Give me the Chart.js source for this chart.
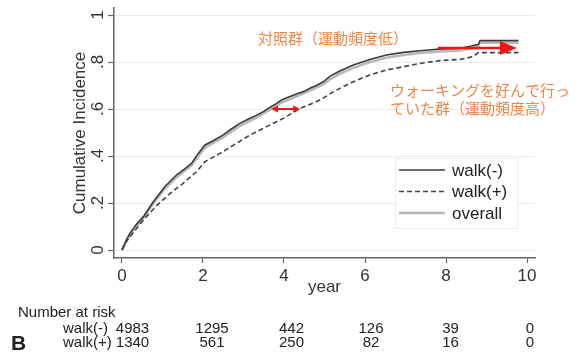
<!DOCTYPE html>
<html>
<head>
<meta charset="utf-8">
<script src="https://cdn.jsdelivr.net/npm/chart.js@4.4.1/dist/chart.umd.min.js"></script>
<style>
  html, body { margin: 0; padding: 0; background: #ffffff; }
  #wrap { width: 575px; height: 354px; position: relative; }
</style>
</head>
<body>
<div id="wrap"><canvas id="c" width="575" height="354"></canvas></div>
<script>
// Cumulative incidence by walking habit (years of follow-up)
const walkMinusYears = [0, 0.1, 0.2, 0.35, 0.53, 0.77, 1.06, 1.35, 1.55, 1.72, 1.88, 2.05, 2.25, 2.5, 2.7, 2.91, 3.1, 3.33, 3.5, 3.65, 3.8, 3.94, 4.1, 4.31, 4.5, 4.64, 4.8, 4.97, 5.14, 5.38, 5.71, 6.12, 6.53, 6.95, 7.36, 7.77, 8.35, 8.63, 8.8, 8.84, 9.79];
const walkMinusInc   = [0, 0.04, 0.072, 0.108, 0.142, 0.204, 0.27, 0.32, 0.345, 0.369, 0.41, 0.447, 0.465, 0.49, 0.515, 0.539, 0.555, 0.574, 0.59, 0.607, 0.622, 0.638, 0.65, 0.664, 0.675, 0.688, 0.70, 0.716, 0.74, 0.762, 0.787, 0.811, 0.83, 0.841, 0.848, 0.854, 0.858, 0.868, 0.875, 0.891, 0.891];

const walkPlusYears = [0, 0.08, 0.2, 0.53, 0.86, 1.19, 1.51, 1.84, 2.05, 2.42, 2.83, 3.16, 3.57, 3.98, 4.4, 4.8, 5.05, 5.22, 5.71, 6.12, 6.53, 6.95, 7.36, 7.85, 8.35, 8.67, 8.8, 9.79];
const walkPlusInc   = [0, 0.03, 0.057, 0.128, 0.19, 0.241, 0.284, 0.333, 0.376, 0.411, 0.454, 0.489, 0.525, 0.56, 0.603, 0.631, 0.655, 0.674, 0.716, 0.745, 0.766, 0.78, 0.794, 0.806, 0.811, 0.823, 0.84, 0.84];

const overallYears = [0, 0.2, 0.53, 0.77, 1.06, 1.35, 1.72, 1.88, 2.05, 2.5, 2.91, 3.33, 3.65, 3.94, 4.31, 4.64, 4.97, 5.14, 5.38, 5.71, 6.12, 6.53, 6.95, 7.36, 7.77, 8.35, 8.63, 8.8, 8.84, 9.79];
const overallInc   = [0, 0.068, 0.137, 0.198, 0.262, 0.31, 0.36, 0.398, 0.436, 0.48, 0.528, 0.564, 0.597, 0.627, 0.654, 0.678, 0.705, 0.727, 0.75, 0.775, 0.8, 0.818, 0.83, 0.838, 0.844, 0.849, 0.858, 0.866, 0.882, 0.882];

// Axis ticks
const xTicks = [0, 2, 4, 6, 8, 10];
const yTicks = [0, 0.2, 0.4, 0.6, 0.8, 1];

// Number-at-risk table
const riskTimes = [0, 2, 4, 6, 8, 10];
const riskWalkMinus = [4983, 1295, 442, 126, 39, 0];
const riskWalkPlus = [1340, 561, 250, 82, 16, 0];

// Annotation texts and arrow positions (data units)
const labelLow = '対照群（運動頻度低）';
const labelHighLines = ['ウォーキングを好んで行っ', 'ていた群（運動頻度高）'];
const gapArrow = { y: 0.6, x1: 3.68, x2: 4.4 };
const endArrow = { y: 0.86, x1: 7.8, x2: 9.75 };

const LATIN = '"Liberation Sans", Arial, Helvetica, sans-serif';
const CJK = '"Noto Sans CJK JP", "Noto Sans CJK SC", sans-serif';
const ORANGE = '#ec8746';
const RED = '#f01414';

const toPoints = (xs, ys) => xs.map((x, i) => ({ x: x, y: ys[i] }));
const fmtY = v => (v === 0 ? '0' : v === 1 ? '1' : String(Math.round(v * 10) / 10).replace(/^0/, ''));

function arrowHead(ctx, tipX, tipY, dir, len, half) {
  ctx.beginPath();
  ctx.moveTo(tipX, tipY);
  ctx.lineTo(tipX - dir * len, tipY - half);
  ctx.lineTo(tipX - dir * len, tipY + half);
  ctx.closePath();
  ctx.fill();
}

const overlay = {
  id: 'overlay',
  afterDraw(chart) {
    const ctx = chart.ctx;
    const xs = chart.scales.x, ys = chart.scales.y, xr = chart.scales.xRisk;
    ctx.save();

    // rotated y tick labels
    ctx.font = '17px ' + LATIN;
    ctx.fillStyle = '#333';
    ctx.textAlign = 'center';
    ctx.textBaseline = 'middle';
    ys.ticks.forEach(t => {
      const py = ys.getPixelForValue(t.value);
      ctx.save();
      ctx.translate(ys.right - 16, py);
      ctx.rotate(-Math.PI / 2);
      ctx.fillText(fmtY(t.value), 0, 0);
      ctx.restore();
    });

    // legend box
    const lx = 395, ly = 158, lw = 122, lh = 70;
    ctx.fillStyle = '#ffffff';
    ctx.fillRect(lx, ly, lw, lh);
    ctx.strokeStyle = '#ececec';
    ctx.lineWidth = 1;
    ctx.strokeRect(lx + 0.5, ly + 0.5, lw, lh);
    chart.data.datasets.forEach((ds, i) => {
      const yy = 170 + i * 21.5;
      ctx.save();
      ctx.strokeStyle = ds.borderColor;
      ctx.lineWidth = ds.borderWidth;
      ctx.setLineDash(ds.borderDash || []);
      ctx.beginPath();
      ctx.moveTo(399, yy);
      ctx.lineTo(445, yy);
      ctx.stroke();
      ctx.restore();
      ctx.fillStyle = '#222';
      ctx.font = '17px ' + LATIN;
      ctx.textAlign = 'left';
      ctx.textBaseline = 'middle';
      ctx.fillText(ds.label, 452, yy + 1);
    });

    // red arrows
    ctx.fillStyle = RED;
    ctx.strokeStyle = RED;
    let ax1 = xs.getPixelForValue(gapArrow.x1), ax2 = xs.getPixelForValue(gapArrow.x2), ay = ys.getPixelForValue(gapArrow.y);
    ctx.lineWidth = 2;
    ctx.beginPath(); ctx.moveTo(ax1 + 4, ay); ctx.lineTo(ax2 - 4, ay); ctx.stroke();
    arrowHead(ctx, ax1, ay, -1, 7, 3.5);
    arrowHead(ctx, ax2, ay, 1, 7, 3.5);

    ax1 = xs.getPixelForValue(endArrow.x1); ax2 = xs.getPixelForValue(endArrow.x2); ay = ys.getPixelForValue(endArrow.y);
    ctx.lineWidth = 2.5;
    ctx.beginPath(); ctx.moveTo(ax1, ay); ctx.lineTo(ax2 - 14, ay); ctx.stroke();
    arrowHead(ctx, ax2, ay, 1, 17, 7);

    // orange group annotations
    ctx.fillStyle = ORANGE;
    ctx.font = '15px ' + CJK;
    ctx.textAlign = 'left';
    ctx.textBaseline = 'middle';
    ctx.fillText(labelLow, xs.getPixelForValue(3.36), ys.getPixelForValue(0.902));
    labelHighLines.forEach((s, i) => {
      ctx.fillText(s, xs.getPixelForValue(6.62), ys.getPixelForValue(0.681 - i * 0.077));
    });

    // number at risk table
    ctx.fillStyle = '#222';
    ctx.font = '15px ' + LATIN;
    ctx.textAlign = 'left';
    ctx.fillText('Number at risk', 18, 313);
    ctx.fillText('walk(-)', 63, 329);
    ctx.fillText('walk(+)', 63, 343);
    ctx.textAlign = 'center';
    riskTimes.forEach((t, i) => {
      const px = xr.getPixelForValue(t);
      ctx.fillText(String(riskWalkMinus[i]), px, 329);
      ctx.fillText(String(riskWalkPlus[i]), px, 343);
    });

    // panel letter
    ctx.font = 'bold 21px ' + LATIN;
    ctx.textAlign = 'left';
    ctx.fillText('B', 11, 344);

    ctx.restore();
  }
};

new Chart(document.getElementById('c'), {
  type: 'line',
  data: {
    datasets: [
      { label: 'walk(-)', data: toPoints(walkMinusYears, walkMinusInc), borderColor: '#3a3a3a', borderWidth: 1.6, pointRadius: 0, tension: 0, fill: false },
      { label: 'walk(+)', data: toPoints(walkPlusYears, walkPlusInc), borderColor: '#444444', borderWidth: 1.6, borderDash: [5, 3], pointRadius: 0, tension: 0, fill: false },
      { label: 'overall', data: toPoints(overallYears, overallInc), borderColor: '#b8b8b8', borderWidth: 2.6, pointRadius: 0, tension: 0, fill: false }
    ]
  },
  options: {
    responsive: false,
    animation: false,
    devicePixelRatio: 1,
    layout: { padding: { left: 0, right: 40, top: 8, bottom: 0 } },
    plugins: { legend: { display: false }, tooltip: { enabled: false } },
    scales: {
      x: {
        type: 'linear',
        position: 'bottom',
        min: -0.1975,
        max: 10.1975,
        afterBuildTicks: s => { s.ticks = xTicks.map(v => ({ value: v })); },
        afterFit: s => { s.height = 96; },
        ticks: { color: '#333', font: { family: LATIN, size: 17 }, padding: 3, maxRotation: 0, autoSkip: false },
        grid: { drawOnChartArea: false, drawTicks: true, tickLength: 5, tickColor: '#666', tickWidth: 1.2 },
        border: { color: '#666', width: 1.5 },
        title: { display: true, text: 'year', color: '#333', font: { family: LATIN, size: 17 }, padding: { top: 0, bottom: 56 } }
      },
      xRisk: {
        type: 'linear',
        axis: 'x',
        position: 'bottom',
        display: false,
        min: -0.465,
        max: 10.126
      },
      y: {
        type: 'linear',
        position: 'left',
        min: -0.034,
        max: 1.0298,
        afterBuildTicks: s => { s.ticks = yTicks.map(v => ({ value: v })); },
        afterFit: s => { s.width = 114; },
        ticks: { display: false },
        grid: { color: '#ebebeb', lineWidth: 1, drawTicks: true, tickLength: 6, tickColor: '#666', tickWidth: 1.2 },
        border: { color: '#666', width: 1.5 },
        title: { display: true, text: 'Cumulative Incidence', color: '#333', font: { family: LATIN, size: 17 }, padding: { top: 70, bottom: 0 } }
      }
    }
  },
  plugins: [overlay]
});
</script>
</body>
</html>
